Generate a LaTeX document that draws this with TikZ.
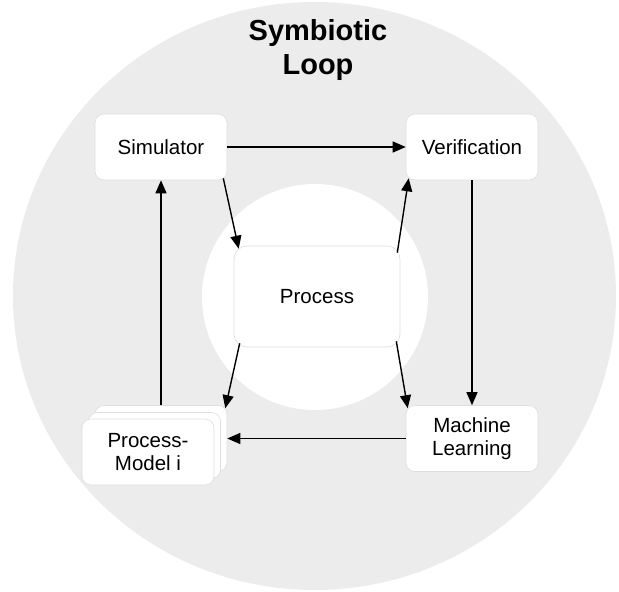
\documentclass[tikz,border=0pt]{standalone}
\usepackage{fontspec}
\setmainfont{Liberation Sans}
\usetikzlibrary{arrows.meta,calc}
\definecolor{ringgray}{HTML}{ECECEC}
\definecolor{boxline}{HTML}{DDDDDD}
\tikzset{
  stagebox/.style={draw=boxline, line width=0.6pt, fill=white, rounded corners=9pt,
    minimum width=132pt, minimum height=66pt, inner sep=0pt, align=center,
    font=\fontsize{20.5}{23}\selectfont},
  flow/.style={line width=1.4pt, -{Triangle[length=13pt,width=11pt]}},
}
\begin{document}
\begin{tikzpicture}[x=1pt,y=-1pt]
  \useasboundingbox (0,0) rectangle (619,592);
  % outer ring and inner hole
  \fill[ringgray] (314.5,296) ellipse [x radius=301.5, y radius=294];
  \fill[white] (315,297) circle [radius=113];

  \node[font=\bfseries\fontsize{29}{34}\selectfont, align=center] (title) at (318,50) {Symbiotic\\Loop};

  \node[stagebox] (sim) at (161,147) {Simulator};
  \node[stagebox] (ver) at (472,147) {Verification};
  \node[stagebox] (ml)  at (472,438.5) {Machine\\Learning};
  \node[stagebox, minimum width=166pt, minimum height=101pt, rounded corners=13pt] (proc) at (317,296.5) {Process};

  % stacked process models
  \node[stagebox] (pm3) at (161,438.5) {};
  \node[stagebox] (pm2) at (154.5,445.5) {};
  \node[stagebox] (pm1) at (148,452) {Process-\\Model i};

  % main loop
  \draw[flow] (sim.east) -- (ver.west);
  \draw[flow] (ver.south) -- (ml.north);
  \draw[flow] (ml.west) -- (pm3.east);
  \draw[flow] (pm3.north) -- (sim.south);

  % links through the process
  \draw[flow] ($(sim.south east)+(-4,-2)$) -- ($(proc.north west)+(5,3)$);
  \draw[flow] ($(proc.north east)+(-3,7)$) -- ($(ver.south west)+(3,-2)$);
  \draw[flow] ($(proc.south east)+(-4,-6)$) -- ($(ml.north west)+(2,3)$);
  \draw[flow] ($(proc.south west)+(6,-4)$) -- ($(pm3.north east)+(-2,3)$);
\end{tikzpicture}
\end{document}
